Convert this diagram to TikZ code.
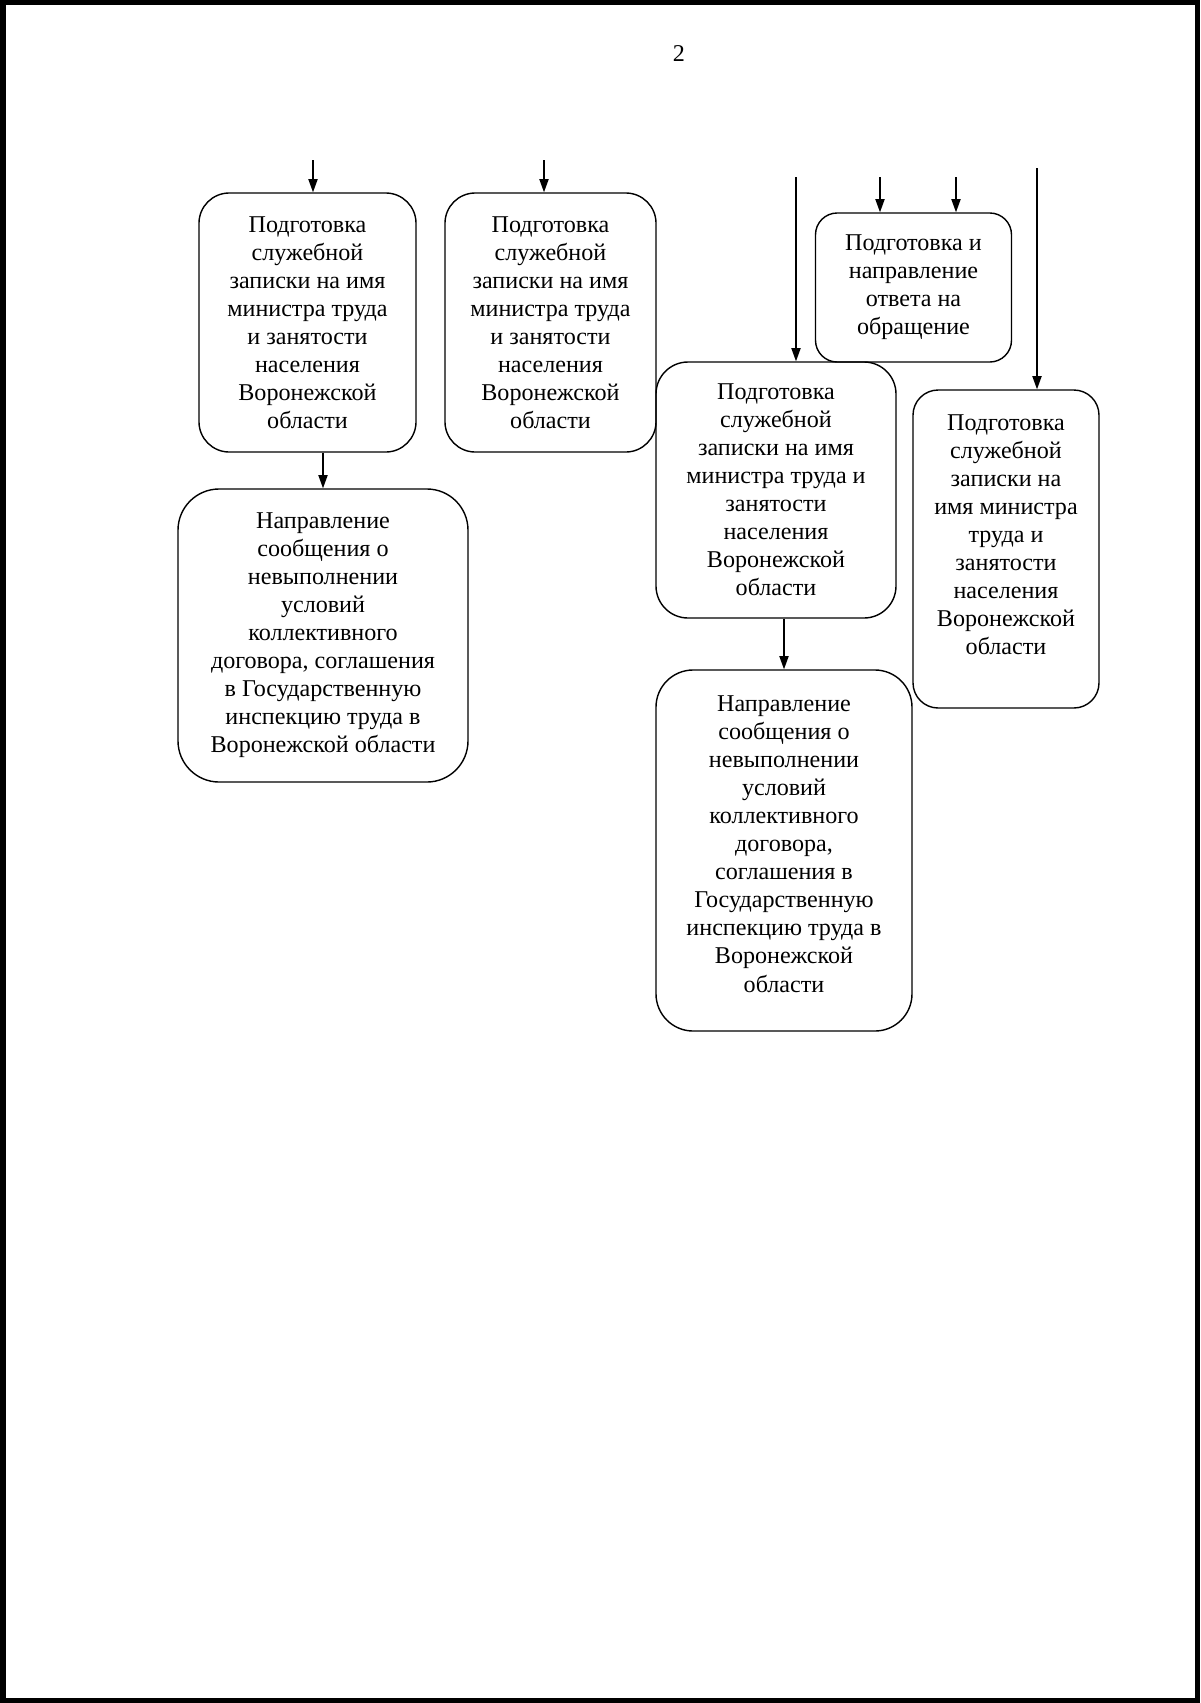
\documentclass[tikz,border=0pt]{standalone}
\usepackage{fontspec}
\setmainfont{Liberation Serif}
\usetikzlibrary{arrows.meta}

\begin{document}
\begin{tikzpicture}[x=0.175mm, y=-0.175mm,
  blk/.style={draw, line width=0.7pt, rounded corners=#1, align=center, inner sep=0pt,
    font=\fontsize{12pt}{13.95pt}\selectfont},
  blk/.default=5.5mm,
  arr/.style={line width=0.7pt, -{Triangle[length=2.3mm,width=1.6mm]}},
  pg/.style={font=\fontsize{12pt}{13.95pt}\selectfont}
]
\useasboundingbox (0,0) rectangle (1200,1703);
%% Scanned page edge
\fill[black] (0,0) rectangle (1200,1703);
\fill[white] (6,5) rectangle (1195,1698);
\node[pg] (pgnum) at (679,54) {2};

%% Left column
\node[blk=5.3mm, minimum width=37.98mm, minimum height=45.33mm] (A1) at (307.5,322.5)
  {Подготовка\\служебной\\записки на имя\\министра труда\\и занятости\\населения\\Воронежской\\области};
\node[blk=7.2mm, minimum width=50.75mm, minimum height=51.28mm] (A2) at (323,635.5)
  {Направление\\сообщения о\\невыполнении\\условий\\коллективного\\договора, соглашения\\в Государственную\\инспекцию труда в\\Воронежской области};
\node[blk=5.3mm, minimum width=36.93mm, minimum height=45.33mm] (B1) at (550.5,322.5)
  {Подготовка\\служебной\\записки на имя\\министра труда\\и занятости\\населения\\Воронежской\\области};

%% Right column
\node[blk=3.8mm, minimum width=34.3mm, minimum height=26.08mm] (C1) at (913.5,287.5)
  {Подготовка и\\направление\\ответа на\\обращение};
\node[blk=5.6mm, minimum width=42mm, minimum height=44.8mm] (D1) at (776,490)
  {Подготовка\\служебной\\записки на имя\\министра труда и\\занятости\\населения\\Воронежской\\области};
\node[blk=6.5mm, minimum width=44.8mm, minimum height=63.18mm] (D2) at (784,850.5)
  {Направление\\сообщения о\\невыполнении\\условий\\коллективного\\договора,\\соглашения в\\Государственную\\инспекцию труда в\\Воронежской\\области\\[-7.5pt]\mbox{}};
\node[blk=4.4mm, minimum width=32.55mm, minimum height=55.65mm] (E1) at (1006,549)
  {Подготовка\\служебной\\записки на\\имя министра\\труда и\\занятости\\населения\\Воронежской\\области\\\mbox{}};

%% Incoming arrows from the previous page
\coordinate (tA1) at (313,160);
\coordinate (tB1) at (544,160);
\coordinate (tC1a) at (880,177);
\coordinate (tC1b) at (956,177);
\coordinate (tD1) at (796,177);
\coordinate (tE1) at (1037,168);
\draw[arr] (tA1) -- (tA1 |- A1.north);
\draw[arr] (tB1) -- (tB1 |- B1.north);
\draw[arr] (tC1a) -- (tC1a |- C1.north);
\draw[arr] (tC1b) -- (tC1b |- C1.north);
\draw[arr] (tD1) -- (tD1 |- D1.north);
\draw[arr] (tE1) -- (tE1 |- E1.north);

%% Links between boxes
\draw[arr] (A1.south -| A2.north) -- (A2.north);
\draw[arr] (D1.south -| D2.north) -- (D2.north);
\end{tikzpicture}
\end{document}
